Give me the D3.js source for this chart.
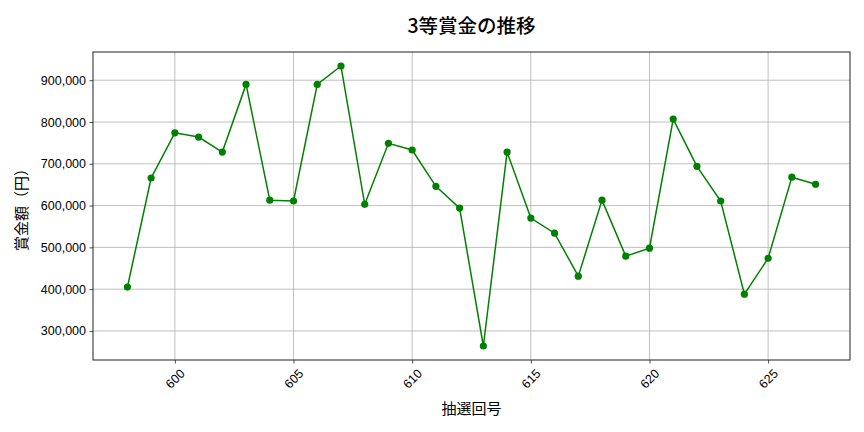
<!DOCTYPE html>
<html>
<head>
<meta charset="utf-8">
<script src="https://cdn.jsdelivr.net/npm/d3@7"></script>
<style>
    body { margin: 0; background: #fff; }
    svg { font-family: "Noto Sans CJK JP", "Noto Sans", sans-serif; }
</style>
</head>
<body>
<div id="chart"></div>
<script>
// 抽選回号と3等賞金
const draws = [598, 599, 600, 601, 602, 603, 604, 605, 606, 607, 608, 609, 610, 611, 612,
    613, 614, 615, 616, 617, 618, 619, 620, 621, 622, 623, 624, 625, 626, 627]
const prizes = [405000, 666000, 774000, 764000, 728000, 890000, 613000, 611000, 890000, 934000,
    603000, 749000, 733000, 646000, 594000, 264000, 728000, 570000, 534000, 431000,
    613000, 479000, 498000, 807000, 694000, 611000, 388000, 474000, 668000, 651000]
const xTicks = [600, 605, 610, 615, 620, 625]
const yTicks = [300000, 400000, 500000, 600000, 700000, 800000, 900000]

const width = 864, height = 432
const margin = {top: 52, right: 14, bottom: 72, left: 93}
const w = width - margin.left - margin.right
const h = height - margin.top - margin.bottom

const data = draws.map((d, i) => ({draw: d, value: prizes[i]}))

const svg = d3.select('#chart')
    .append('svg')
    .attr('width', width)
    .attr('height', height)

const graph = svg.append('g')
    .attr('transform', `translate(${margin.left}, ${margin.top})`)

// matplotlib風の5%余白
const xExt = d3.extent(draws), yExt = d3.extent(prizes)
const xPad = (xExt[1] - xExt[0]) * 0.05, yPad = (yExt[1] - yExt[0]) * 0.05
const x = d3.scaleLinear().domain([xExt[0] - xPad, xExt[1] + xPad]).range([0, w])
const y = d3.scaleLinear().domain([yExt[0] - yPad, yExt[1] + yPad]).range([h, 0])

// グリッド
graph.append('g')
    .selectAll('line')
    .data(xTicks)
    .enter().append('line')
        .attr('x1', d => x(d)).attr('x2', d => x(d))
        .attr('y1', 0).attr('y2', h)
        .attr('stroke', '#b0b0b0').attr('stroke-width', 0.8)

graph.append('g')
    .selectAll('line')
    .data(yTicks)
    .enter().append('line')
        .attr('x1', 0).attr('x2', w)
        .attr('y1', d => y(d)).attr('y2', d => y(d))
        .attr('stroke', '#b0b0b0').attr('stroke-width', 0.8)

const xAxis = d3.axisBottom(x).tickValues(xTicks).tickSize(3.5).tickPadding(4).tickSizeOuter(0)
const yAxis = d3.axisLeft(y).tickValues(yTicks).tickSize(3.5).tickPadding(3.5).tickSizeOuter(0)
    .tickFormat(d3.format(','))

const xAxisGroup = graph.append('g')
    .attr('transform', `translate(0, ${h})`)
    .call(xAxis)
const yAxisGroup = graph.append('g').call(yAxis)

;[xAxisGroup, yAxisGroup].forEach(g => {
    g.select('.domain').remove()
    g.selectAll('.tick line').attr('stroke', '#222').attr('stroke-width', 0.8)
    g.selectAll('text').attr('fill', '#000').style('font-size', '12.5px')
})

xAxisGroup.selectAll('text')
    .attr('text-anchor', 'middle')
    .attr('dy', null)
    .attr('y', 0)
    .attr('transform', 'translate(0, 19) rotate(-45)')
    .attr('dominant-baseline', 'central')

// 枠
graph.append('rect')
    .attr('width', w).attr('height', h)
    .attr('fill', 'none')
    .attr('stroke', '#222').attr('stroke-width', 1)

const line = d3.line()
    .x(d => x(d.draw))
    .y(d => y(d.value))

graph.append('path')
    .datum(data)
    .attr('fill', 'none')
    .attr('stroke', 'green')
    .attr('stroke-width', 1.5)
    .attr('d', line)

graph.selectAll('circle')
    .data(data)
    .enter().append('circle')
        .attr('cx', d => x(d.draw))
        .attr('cy', d => y(d.value))
        .attr('r', 3.6)
        .attr('fill', 'green')

// タイトルとラベル
svg.append('text')
    .attr('x', margin.left + w / 2)
    .attr('y', 33)
    .attr('text-anchor', 'middle')
    .style('font-size', '19.5px')
    .style('font-weight', 500)
    .attr('fill', '#000')
    .text('3等賞金の推移')

svg.append('text')
    .attr('x', margin.left + w / 2)
    .attr('y', 414)
    .attr('text-anchor', 'middle')
    .style('font-size', '15px')
    .attr('fill', '#000')
    .text('抽選回号')

svg.append('text')
    .attr('transform', `translate(27, ${margin.top + h / 2}) rotate(-90)`)
    .attr('text-anchor', 'middle')
    .style('font-size', '15px')
    .attr('fill', '#000')
    .text('賞金額（円）')
</script>
</body>
</html>
